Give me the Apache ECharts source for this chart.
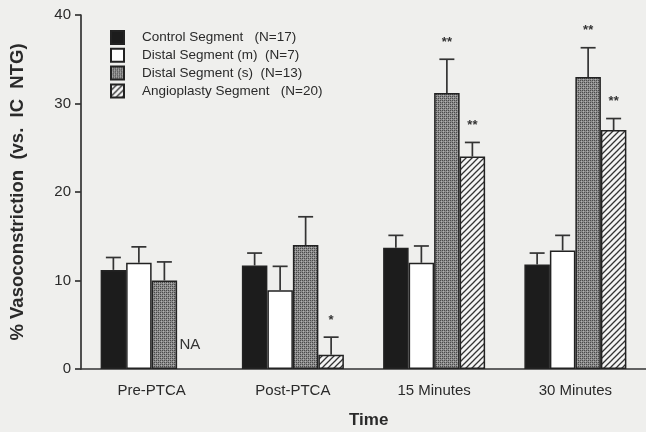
<!DOCTYPE html>
<html><head><meta charset="utf-8">
<script src="https://cdn.jsdelivr.net/npm/echarts@6/dist/echarts.min.js"></script>
<style>html,body{margin:0;padding:0;background:#efefed;}#c{width:646px;height:432px;}</style>
</head><body><div id="c"></div>
<script>
const categories = ['Pre-PTCA', 'Post-PTCA', '15 Minutes', '30 Minutes'];
const seriesNames = ['Control Segment   (N=17)', 'Distal Segment (m)  (N=7)', 'Distal Segment (s)  (N=13)', 'Angioplasty Segment   (N=20)'];
const control = [11.2, 11.7, 13.7, 11.8];
const controlErr = [12.6, 13.1, 15.1, 13.1];
const controlSig = ['', '', '', ''];
const distalM = [12.0, 8.9, 12.0, 13.4];
const distalMErr = [13.8, 11.6, 13.9, 15.1];
const distalMSig = ['', '', '', ''];
const distalS = [10.0, 14.0, 31.2, 33.0];
const distalSErr = [12.1, 17.2, 35.0, 36.3];
const distalSSig = ['', '', '**', '**'];
const angio = [null, 1.6, 24.0, 27.0];
const angioErr = [null, 3.6, 25.6, 28.3];
const angioSig = ['NA', '*', '**', '**'];
const yTicks = [0, 10, 20, 30, 40];

function makePattern(kind) {
  const c = document.createElement('canvas');
  if (kind === 'stipple') {
    c.width = 4; c.height = 4;
    const g = c.getContext('2d');
    g.fillStyle = '#8c8c8c'; g.fillRect(0, 0, 4, 4);
    g.fillStyle = '#4a4a4a';
    g.fillRect(0, 0, 1, 1); g.fillRect(2, 2, 1, 1); g.fillRect(2, 0, 1, 1); g.fillRect(0, 2, 1, 1);
    g.fillStyle = '#b0b0b0';
    g.fillRect(1, 1, 1, 1); g.fillRect(3, 3, 1, 1);
  } else {
    c.width = 6; c.height = 6;
    const g = c.getContext('2d');
    g.fillStyle = '#f4f4f4'; g.fillRect(0, 0, 6, 6);
    g.strokeStyle = '#333'; g.lineWidth = 1.3;
    g.beginPath();
    g.moveTo(-1, 7); g.lineTo(7, -1);
    g.moveTo(-4, 4); g.lineTo(4, -4);
    g.moveTo(2, 10); g.lineTo(10, 2);
    g.stroke();
  }
  return { image: c, repeat: 'repeat' };
}

const fills = ['#1c1c1c', '#ffffff', makePattern('stipple'), makePattern('hatch')];
const vals = [control, distalM, distalS, angio];
const errs = [controlErr, distalMErr, distalSErr, angioErr];
const sigs = [controlSig, distalMSig, distalSSig, angioSig];
const BW = 25.5;
const offsets = [-1.5 * BW, -0.5 * BW, 0.5 * BW, 1.5 * BW];
const FONT = '"Liberation Sans", Arial, sans-serif';

const series = [];
for (let k = 0; k < 4; k++) {
  series.push({
    name: seriesNames[k], type: 'bar', barWidth: BW, barGap: '0%',
    data: vals[k],
    itemStyle: { color: fills[k], borderColor: '#222', borderWidth: 1.5 },
    z: 2
  });
}
for (let k = 0; k < 4; k++) {
  const data = categories.map((c, i) => [i, vals[k][i] == null ? 0 : vals[k][i], errs[k][i] == null ? 0 : errs[k][i], sigs[k][i], vals[k][i] == null ? 1 : 0]);
  series.push({
    type: 'custom', z: 5, silent: true,
    data: data,
    renderItem: function (params, api) {
      const i = api.value(0);
      const x = api.coord([i, 0])[0] + offsets[k];
      const missing = api.value(4) === 1;
      const sig = api.value(3);
      const children = [];
      if (missing) {
        const p = api.coord([i, 2.7]);
        children.push({ type: 'text', style: { x: x, y: p[1], text: sig, fill: '#333', font: '15px ' + FONT, textAlign: 'center', textVerticalAlign: 'middle' } });
        return { type: 'group', children: children };
      }
      const base = api.coord([i, api.value(1)])[1];
      const top = api.coord([i, api.value(2)])[1];
      children.push({ type: 'line', shape: { x1: x, y1: base, x2: x, y2: top }, style: { stroke: '#333', lineWidth: 1.7 } });
      children.push({ type: 'line', shape: { x1: x - 7.5, y1: top, x2: x + 7.5, y2: top }, style: { stroke: '#333', lineWidth: 1.7 } });
      if (sig) {
        children.push({ type: 'text', style: { x: x, y: top - 17, text: sig, fill: '#333', font: 'bold 13px ' + FONT, textAlign: 'center', textVerticalAlign: 'middle' } });
      }
      return { type: 'group', children: children };
    }
  });
}

const chart = echarts.init(document.getElementById('c'));
chart.setOption({
  backgroundColor: '#efefed',
  animation: false,
  grid: { left: 80, right: 0, top: 15, bottom: 63 },
  legend: {
    orient: 'vertical', left: 105, top: 25, itemWidth: 13, itemHeight: 13, itemGap: 2.8,
    icon: 'rect',
    data: seriesNames, selectedMode: false,
    textStyle: { fontFamily: FONT, fontSize: 13.5, color: '#2a2a2a', padding: [0, 0, 0, 13] }
  },
  xAxis: {
    type: 'category', data: categories,
    axisLine: { lineStyle: { color: '#333', width: 1.7 } },
    axisTick: { show: false },
    axisLabel: { fontFamily: FONT, fontSize: 15, color: '#2a2a2a', margin: 14 }
  },
  yAxis: {
    type: 'value', min: yTicks[0], max: yTicks[yTicks.length - 1], interval: 10,
    splitLine: { show: false },
    axisLine: { show: true, lineStyle: { color: '#333', width: 1.7 } },
    axisTick: { show: true, length: 6, lineStyle: { color: '#333', width: 1.7 } },
    axisLabel: { fontFamily: FONT, fontSize: 15, color: '#2a2a2a', margin: 10 },
    name: '% Vasoconstriction  (vs.  IC  NTG)', nameLocation: 'middle', nameGap: 54,
    nameTextStyle: { fontFamily: FONT, fontSize: 18.5, fontWeight: 'bold', color: '#2a2a2a' }
  },
  graphic: [{
    type: 'text', left: 349, top: 412,
    style: { text: 'Time', font: 'bold 17px ' + FONT, fill: '#2a2a2a' }
  }],
  series: series
});
</script>
</body></html>
